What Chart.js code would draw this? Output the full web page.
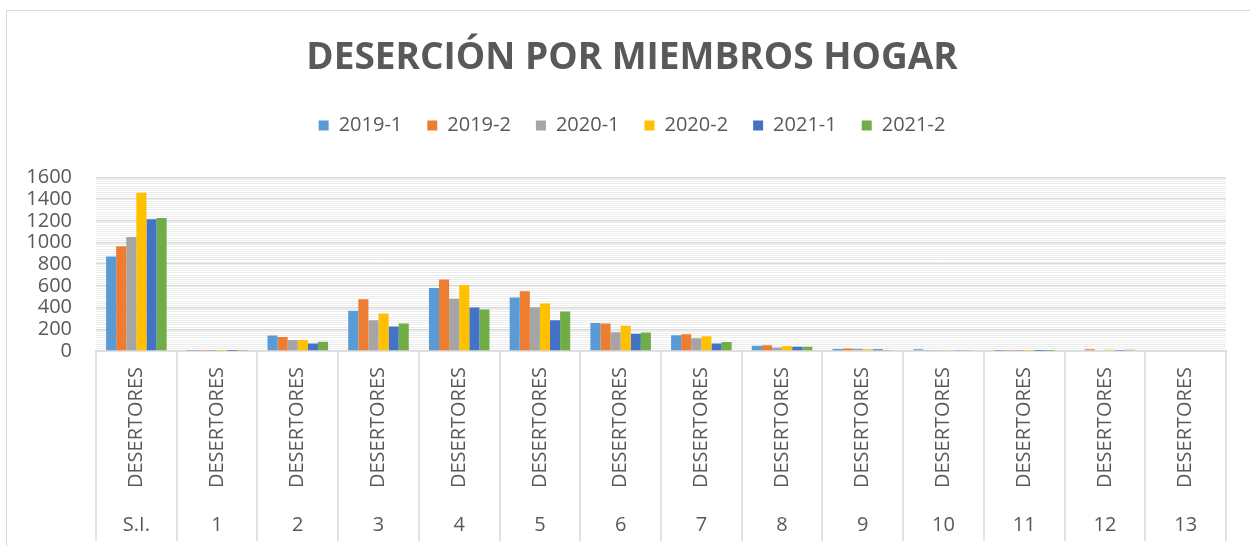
<!DOCTYPE html>
<html>
<head>
<meta charset="utf-8">
<script src="https://cdn.jsdelivr.net/npm/chart.js@4"></script>
<style>
html, body { margin: 0; padding: 0; background: #fff; overflow: hidden; }
#marco { position: absolute; left: 6px; top: 10px; width: 1250px; height: 536px;
         border-left: 1px solid #d9d9d9; border-top: 1px solid #d9d9d9; }
</style>
</head>
<body>
<div id="marco"><canvas id="myChart"></canvas></div>
<script>
// categorias (miembros del hogar) y etiqueta de serie
const grupos = ['S.I.', '1', '2', '3', '4', '5', '6', '7', '8', '9', '10', '11', '12', '13'];
const labels = grupos.map(() => 'DESERTORES');

// desertores por periodo
const s2019_1 = [871, 3, 142, 371, 580, 494, 259, 145, 49, 18, 15, 1, 6, 0];
const s2019_2 = [966, 2, 130, 478, 658, 550, 253, 154, 52, 22, 10, 2, 15, 0];
const s2020_1 = [1050, 1, 102, 284, 482, 404, 172, 117, 33, 20, 10, 1, 0, 0];
const s2020_2 = [1458, 2, 102, 346, 608, 438, 232, 135, 46, 15, 4, 2, 12, 0];
const s2021_1 = [1214, 1, 68, 225, 401, 284, 160, 70, 40, 17, 5, 1, 3, 0];
const s2021_2 = [1226, 3, 86, 253, 383, 364, 170, 83, 40, 10, 4, 1, 12, 0];

Chart.defaults.font.family = "'Open Sans', sans-serif";
Chart.defaults.color = '#595959';

// lineas verticales entre categorias, desde el eje hasta abajo
const separadores = {
    id: 'separadores',
    afterDraw: (chart) => {
        const xs = chart.scales.x;
        const ctx = chart.ctx;
        ctx.save();
        ctx.strokeStyle = '#d9d9d9';
        ctx.lineWidth = 1.5;
        for (let i = 0; i <= grupos.length; i++) {
            const px = Math.round(xs.getPixelForValue(i - 0.5));
            ctx.beginPath();
            ctx.moveTo(px, xs.top);
            ctx.lineTo(px, chart.height - 6);
            ctx.stroke();
        }
        ctx.restore();
    }
};

const data = {
    labels: labels,
    datasets: [
        { label: '2019-1', backgroundColor: '#5B9BD5', data: s2019_1 },
        { label: '2019-2', backgroundColor: '#ED7D31', data: s2019_2 },
        { label: '2020-1', backgroundColor: '#A5A5A5', data: s2020_1 },
        { label: '2020-2', backgroundColor: '#FFC000', data: s2020_2 },
        { label: '2021-1', backgroundColor: '#4472C4', data: s2021_1 },
        { label: '2021-2', backgroundColor: '#70AD47', data: s2021_2 }
    ]
};

const config = {
    type: 'bar',
    data: data,
    plugins: [separadores],
    options: {
        responsive: true,
        maintainAspectRatio: false,
        animation: false,
        datasets: { bar: { barPercentage: 1.0, categoryPercentage: 0.75 } },
        plugins: {
            title: {
                display: true,
                text: 'DESERCIÓN POR MIEMBROS HOGAR',
                font: { size: 37, weight: 'bold' },
                color: '#595959',
                padding: { top: 25, bottom: 10 }
            },
            legend: {
                labels: { boxWidth: 10, boxHeight: 10, padding: 25, font: { size: 20 } }
            },
            tooltip: { enabled: false }
        },
        scales: {
            x: {
                grid: { display: false, drawTicks: false },
                border: { color: '#d9d9d9', width: 1.5 },
                ticks: { minRotation: 90, maxRotation: 90, autoSkip: false, padding: 16, font: { size: 20 } },
                afterFit: (s) => { s.height = 136; }
            },
            x2: {
                type: 'category',
                position: 'bottom',
                labels: grupos,
                offset: true,
                grid: { display: false, drawTicks: false },
                border: { display: false },
                ticks: { autoSkip: false, maxRotation: 0, padding: 26, font: { size: 20 } },
                afterFit: (s) => { s.height = 60; }
            },
            gapTop: {
                type: 'category',
                position: 'top',
                labels: [''],
                grid: { display: false, drawTicks: false },
                border: { display: false },
                ticks: { display: false },
                afterFit: (s) => { s.height = 32; }
            },
            y: {
                min: 0,
                max: 1600,
                grid: {
                    drawTicks: false,
                    color: (c) => (c.tick.value % 200 === 0 ? '#d9d9d9' : '#ececec'),
                    lineWidth: (c) => (c.tick.value % 200 === 0 ? 1.5 : 1)
                },
                border: { display: false },
                ticks: {
                    stepSize: 20,
                    maxTicksLimit: 200,
                    autoSkip: false,
                    padding: 24,
                    font: { size: 20 },
                    callback: (v) => (v % 200 === 0 ? v : '')
                },
                afterFit: (s) => { s.width = 89; }
            },
            gapRight: {
                type: 'linear',
                position: 'right',
                grid: { display: false, drawTicks: false },
                border: { display: false },
                ticks: { display: false },
                afterFit: (s) => { s.width = 31; }
            }
        }
    }
};

var myChart = new Chart(document.getElementById('myChart'), config);
</script>
</body>
</html>
